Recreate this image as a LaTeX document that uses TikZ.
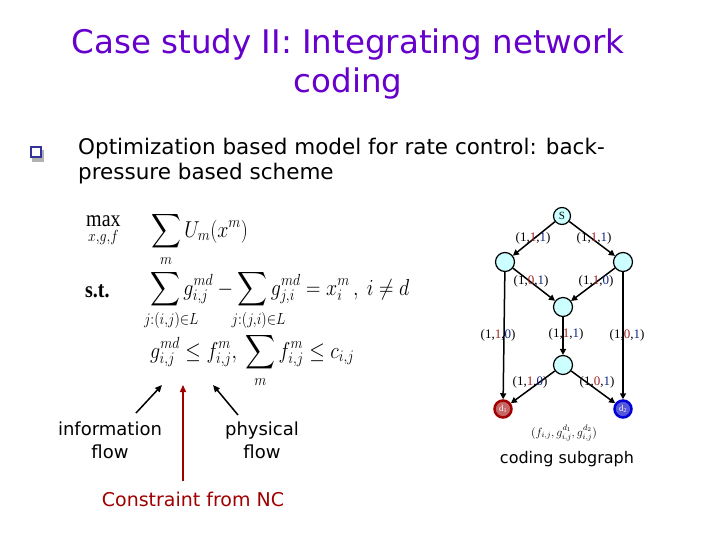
\RequirePackage{fix-cm}
\documentclass[tikz,border=0pt]{standalone}
\usepackage{amsmath}
\usepackage{fontspec}
\setmainfont{Liberation Serif}
\newfontfamily\titlefont{DejaVu Sans}
\newfontfamily\bodyfont{DejaVu Sans}
\usetikzlibrary{arrows.meta}
\definecolor{titlecol}{HTML}{6600CC}
\definecolor{ncred}{HTML}{A00000}
\definecolor{lblred}{HTML}{A02020}
\definecolor{lblblue}{HTML}{102080}
\definecolor{nodecyan}{HTML}{CCFFFF}
\definecolor{bulletblue}{HTML}{333399}
\tikzset{
  gnode/.style={circle,draw=black,line width=1.2pt,fill=nodecyan,minimum size=19pt,inner sep=0pt},
  dnode/.style={circle,draw=#1,line width=2.5pt,fill=white!40!#1,minimum size=17pt,inner sep=0pt,text=white,font=\fontsize{9}{9}\selectfont},
  gedge/.style={line width=1.5pt,-{Triangle[length=6pt,width=6pt]}},
  lbl/.style={font=\fontsize{13}{13}\selectfont,inner sep=0pt},
  flowarrow/.style={line width=1.5pt,-{Triangle[length=7pt,width=6pt]}},
  bodytxt/.style={font=\bodyfont\fontsize{21.5}{26}\selectfont,inner sep=0pt,anchor=west},
  eq/.style={font=\fontsize{20}{24}\selectfont,inner sep=0pt,anchor=base west},
}
\newcommand{\trip}[3]{(#1,\textcolor{lblred}{#2},\textcolor{lblblue}{#3})}
\newcommand{\tall}[1]{\scalebox{1}[1.15]{#1}}
\newcommand{\lsub}[1]{\rlap{$\scriptstyle\kern3pt #1$}}
\begin{document}
\begin{tikzpicture}[x=1pt,y=-1pt]
\useasboundingbox (0,0) rectangle (720,540);
% title
\node[font=\titlefont\fontsize{32.5}{39}\selectfont,text=titlecol,align=center,inner sep=0pt] (title) at (348,64) {Case study II: Integrating network\\coding};
% bullet
\fill[gray!60] (32,150) rectangle (44,162);
\node[draw=bulletblue,line width=1.5pt,fill=white,minimum size=10pt,inner sep=0pt] (bul) at (36,152) {};
\node[bodytxt] (b1) at (78,149) {Optimization based model for rate control: back-};
\node[bodytxt] (b2) at (78,174) {pressure based scheme};
% equations
\node[eq] (max) at (86,226) {\tall{$\displaystyle\max_{x,g,f}$}};
\node[eq] (obj) at (151,237) {\tall{$\displaystyle\sum_{m} U_m(x^m)$}};
\node[eq] (st) at (85,297) {\tall{\textbf{s.t.}}};
\node[eq] (c1) at (150,295) {\tall{$\displaystyle\sum_{\lsub{j:(i,j)\in L}} g^{md}_{i,j} - \sum_{\lsub{j:(j,i)\in L}} g^{md}_{j,i} = x^m_i\,,\ i\neq d$}};
\node[eq] (c2) at (150,358) {\tall{$\displaystyle g^{md}_{i,j}\le f^{m}_{i,j},\ \sum_{m} f^{m}_{i,j}\le c_{i,j}$}};
% annotation labels
\node[bodytxt,anchor=center,align=center,font=\bodyfont\fontsize{18}{23}\selectfont] (info) at (110,440) {information\\flow};
\node[bodytxt,anchor=center,align=center,font=\bodyfont\fontsize{18}{23}\selectfont] (phys) at (262,440) {physical\\flow};
\node[bodytxt,anchor=center,font=\bodyfont\fontsize{19}{20}\selectfont,text=ncred] (nc) at (193,499) {Constraint from NC};
\coordinate (infotip) at (162,385);
\coordinate (nctip) at (183,385);
\coordinate (phystip) at (213,385);
\coordinate (infobase) at (136,413);
\coordinate (ncbase) at (183,481);
\coordinate (physbase) at (238,415);
\draw[flowarrow] (infobase) -- (infotip);
\draw[flowarrow,draw=ncred,fill=ncred] (ncbase) -- (nctip);
\draw[flowarrow] (physbase) -- (phystip);
% graph
\node[gnode,minimum size=17pt,font=\fontsize{11}{11}\selectfont] (S) at (562,216) {S};
\node[gnode] (L) at (505,262) {};
\node[gnode] (R) at (623,262) {};
\node[gnode] (M) at (563,307) {};
\node[gnode] (N) at (563,365) {};
\node[dnode=ncred] (d1) at (503,409) {d\textsubscript{1}};
\node[dnode=blue!85!black] (d2) at (623,409) {d\textsubscript{2}};
\draw[gedge] (S) -- (L);
\draw[gedge] (S) -- (R);
\draw[gedge] (L) -- (M);
\draw[gedge] (R) -- (M);
\draw[gedge] (L) -- (d1);
\draw[gedge] (M) -- (N);
\draw[gedge] (R) -- (d2);
\draw[gedge] (N) -- (d1);
\draw[gedge] (N) -- (d2);
\node[lbl] (l1) at (533,238) {\trip{1}{1}{1}};
\node[lbl] (l2) at (594,238) {\trip{1}{1}{1}};
\node[lbl] (l3) at (531,281) {\trip{1}{0}{1}};
\node[lbl] (l4) at (596,281) {\trip{1}{1}{0}};
\node[lbl] (l5) at (498,335) {\trip{1}{1}{0}};
\node[lbl] (l6) at (566,334) {\trip{1}{1}{1}};
\node[lbl] (l7) at (627,335) {\trip{1}{0}{1}};
\node[lbl] (l8) at (530,382) {\trip{1}{1}{0}};
\node[lbl] (l9) at (597,382) {\trip{1}{0}{1}};
\node[lbl,font=\fontsize{12}{12}\selectfont] (fg) at (564,433) {$(f_{i,j}, g^{d_1}_{i,j}, g^{d_2}_{i,j})$};
\node[bodytxt,anchor=center,font=\bodyfont\fontsize{16}{18}\selectfont] (cs) at (567,459) {coding subgraph};
\end{tikzpicture}
\end{document}
